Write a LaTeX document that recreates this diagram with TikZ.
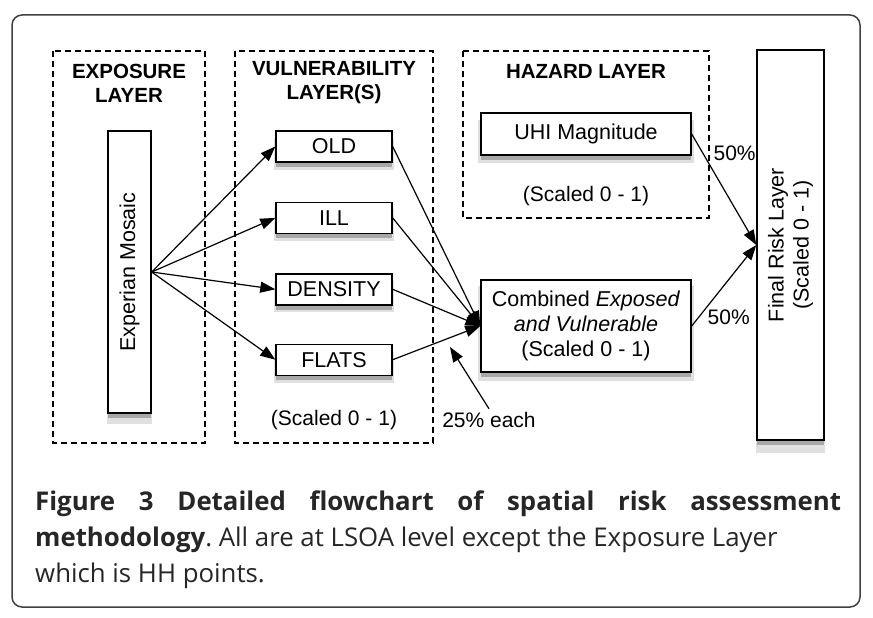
\documentclass[tikz,border=0pt]{standalone}
\usepackage{fontspec}
\setmainfont{Liberation Sans}
\newfontfamily\capfont{Open Sans}
\usepackage{tikz}
\usetikzlibrary{positioning,arrows.meta,shadows}
\tikzstyle{layer} = [draw, dashed, dash pattern=on 6pt off 4pt, line width=1.1pt]
\tikzstyle{box} = [draw, fill=white, line width=1.4pt, inner sep=0pt, align=center,
  font=\fontsize{21.5}{25}\selectfont,
  drop shadow={shadow xshift=0pt, shadow yshift=-7pt, opacity=0.12, fill=black, shadow scale=1.03},
  drop shadow={shadow xshift=0pt, shadow yshift=-5pt, opacity=0.25, fill=black}]
\tikzstyle{head} = [align=center, font=\fontsize{20.5}{24}\selectfont\bfseries]
\tikzstyle{note} = [font=\fontsize{21}{25}\selectfont]
\tikzstyle{link} = [-{Triangle[length=15pt,width=11pt]}, line width=1.2pt]

\begin{document}
\begin{tikzpicture}[x=1pt,y=-1pt]
\useasboundingbox (0,0) rectangle (873,618);
\draw[line width=1.5pt, draw=black!75, rounded corners=10pt] (12,15) rectangle (860,607);
\draw[layer] (53,51) rectangle (205,443);
\draw[layer] (235,51) rectangle (433,443);
\draw[layer] (463,51) rectangle (709,218);
\node[head] (eh) at (129,83) {EXPOSURE\\LAYER};
\node[head] (vh) at (334,83) {VULNERABILITY\\LAYER(S)};
\node[head] (hh) at (586,71) {HAZARD LAYER};
\node[box, rotate=90, minimum width=282pt, minimum height=43pt] (m) at (129.5,272) {Experian Mosaic};
\node[box, minimum width=116pt, minimum height=31pt] (o) at (334,146.5) {OLD};
\node[box, minimum width=116pt, minimum height=31pt, below=39pt of o] (i) {ILL};
\node[box, minimum width=116pt, minimum height=31pt, below=39pt of i] (d) {DENSITY};
\node[box, minimum width=116pt, minimum height=31pt, below=38pt of d] (f) {FLATS};
\node[note] (vs) at (334,420) {(Scaled 0 - 1)};
\node[box, minimum width=210pt, minimum height=42pt] (h) at (586,134) {UHI Magnitude};
\node[note] (hs) at (586,196) {(Scaled 0 - 1)};
\node[box, minimum width=210pt, minimum height=92pt] (c) at (586,326) {Combined \textit{Exposed}\\\textit{and Vulnerable}\\(Scaled 0 - 1)};
\node[box, rotate=90, minimum width=390pt, minimum height=67pt] (r) at (790.5,245) {Final Risk Layer\\(Scaled 0 - 1)};
\node[note] (p) at (489,420) {25\% each};
\coordinate (q) at (450,347);
\foreach \n in {o,i,d,f}
  \draw[link] (m.south) -- (\n.west);
\foreach \n in {o,i,d,f}
  \draw[link] (\n.east) -- (c.west);
\draw[link] (p.north) -- (q);
\draw[link] (h.east) -- node[note, pos=0.17, right, xshift=7pt] {50\%} (r.north);
\draw[link] (c.east) -- node[note, pos=0.11, right, xshift=5pt] {50\%} (r.north);
\node[anchor=north west, text width=806pt, align=justify, inner sep=0pt, text=black!85,
  font=\capfont\fontsize{25.8}{36}\selectfont\frenchspacing] (cap) at (35,491)
  {\textbf{Figure 3 Detailed flowchart of spatial risk assessment}\linebreak
  \textbf{methodology}. All are at LSOA level except the Exposure Layer\newline
  which is HH points.};
\end{tikzpicture}
\end{document}
